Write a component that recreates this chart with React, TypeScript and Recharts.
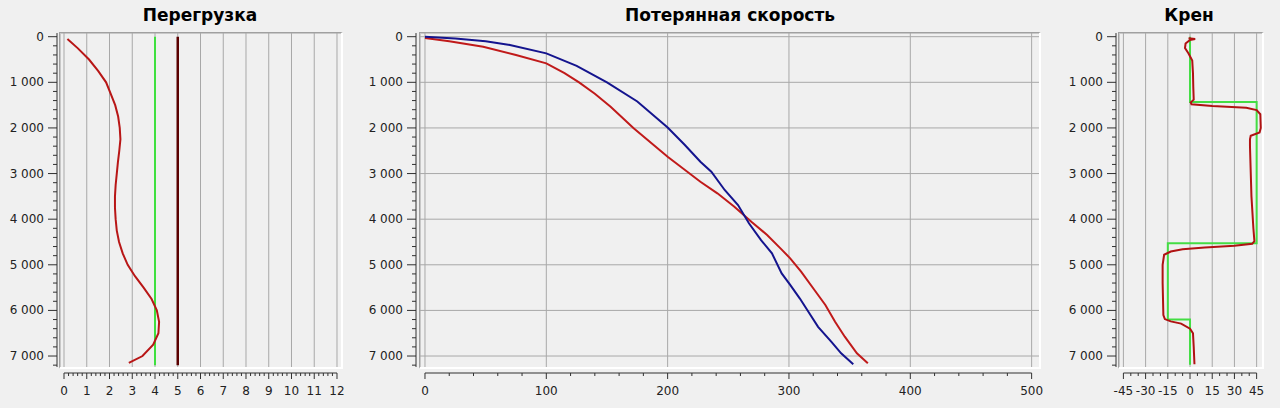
import { ComposedChart, Line, XAxis, YAxis, CartesianGrid, ReferenceLine } from 'recharts';

const BG = '#f0f0f0';
const GRID = '#a8a8a8';
const INK = '#303030';
const FONT = '"DejaVu Sans", sans-serif';

// depth axis, shared by all three panels
const depthMajor = [0, 1000, 2000, 3000, 4000, 5000, 6000, 7000];
const depthTicks: number[] = [];
for (let d = 0; d <= 7200; d += 200) depthTicks.push(d);
const depthDomain = [-103, 7372];

// Перегрузка
const loadDepth = [50, 250, 500, 750, 1000, 1250, 1500, 1750, 2000, 2250, 2500, 2750, 3000, 3250, 3500, 3750, 4000, 4250, 4500, 4750, 5000, 5250, 5500, 5750, 6000, 6250, 6500, 6750, 7000, 7150];
const loadActual = [0.15, 0.6, 1.1, 1.5, 1.85, 2.05, 2.25, 2.38, 2.45, 2.48, 2.43, 2.37, 2.32, 2.27, 2.24, 2.24, 2.27, 2.32, 2.42, 2.58, 2.8, 3.12, 3.5, 3.85, 4.08, 4.18, 4.15, 3.92, 3.45, 2.85];
const limitDepth = [0, 7200];
const loadLimitGreen = 4;
const loadLimitMaroon = 5;
const loadTicks = [0, 1, 2, 3, 4, 5, 6, 7, 8, 9, 10, 11, 12];

// Потерянная скорость
const lostBlueDepth = [0, 40, 100, 180, 365, 640, 1000, 1420, 1990, 2370, 2740, 2960, 3360, 3690, 4090, 4460, 4750, 5190, 5440, 5740, 6030, 6360, 6690, 6940, 7180];
const lostBlue = [0, 25, 50, 70, 100, 125, 150, 175, 200, 214, 227, 236, 247, 258, 267, 277, 286, 294, 301, 309, 316, 324, 335, 343, 353];
const lostRedDepth = [30, 100, 220, 400, 584, 800, 1000, 1250, 1534, 2008, 2630, 3180, 3433, 3726, 4055, 4347, 4640, 4858, 5150, 5553, 5882, 6247, 6576, 6940, 7160];
const lostRed = [0, 20, 48, 75, 100, 115, 127, 140, 153, 172, 200, 227, 241, 255, 269, 282, 293, 301, 310, 321, 330, 338, 346, 356, 365];
const lostTicks = [0, 100, 200, 300, 400, 500];

// Крен
const rollCmdDepth = [0, 1430, 1430, 4530, 4530, 6200, 6200, 7190];
const rollCmd = [0, 0, 45, 45, -15, -15, 0, 0];
const rollDepth = [35, 50, 70, 150, 250, 370, 520, 800, 1100, 1380, 1440, 1480, 1520, 1560, 1610, 1700, 2000, 2100, 2170, 2250, 2400, 3500, 4200, 4480, 4540, 4580, 4620, 4660, 4710, 4780, 5000, 5400, 6100, 6190, 6240, 6290, 6400, 6500, 6800, 7180];
const rollActual = [-1, 3.5, 0, -3, -3.4, -1, 1.5, 2, 2.2, 2.5, 0.5, 1, 15, 38, 45, 47.5, 47.8, 47, 41, 40.5, 40.5, 41.5, 42.8, 43.5, 42, 30, 10, -5, -13, -17.5, -18.5, -18.5, -18, -17, -13, -6, 0, 2, 2.5, 3];
const rollTicks = [-45, -30, -15, 0, 15, 30, 45];

const zip = (vals: number[], depths: number[]) => depths.map((d, i) => ({ v: vals[i], d }));
const constant = (v: number, depths: number[]) => depths.map((d) => ({ v, d }));

const withMinor = (majors: number[], parts: number) => {
  const out: number[] = [];
  for (let i = 0; i < majors.length - 1; i++) {
    const step = (majors[i + 1] - majors[i]) / parts;
    for (let k = 0; k < parts; k++) out.push(+(majors[i] + k * step).toFixed(4));
  }
  out.push(majors[majors.length - 1]);
  return out;
};

const fmtDepth = (v: number) =>
  v >= 1000 ? `${Math.floor(v / 1000)} ${String(v % 1000).padStart(3, '0')}` : String(v);

const makeXTick = (majors: number[]) => (props: any) => {
  const { x, y, payload } = props;
  const v = payload.value;
  const major = majors.some((m) => Math.abs(m - v) < 1e-6);
  return (
    <g>
      <line x1={x} x2={x} y1={y} y2={y + (major ? 6 : 3)} stroke={INK} />
      {major && (
        <text x={x} y={y + 22} textAnchor="middle" fontSize={12} fontFamily={FONT} fill="#222">
          {v}
        </text>
      )}
    </g>
  );
};

const YTick = (props: any) => {
  const { x, y, payload } = props;
  const v = payload.value;
  const major = v % 1000 === 0;
  return (
    <g>
      <line x1={x - (major ? 9 : 4)} x2={x} y1={y} y2={y} stroke={INK} />
      {major && (
        <text x={x - 13} y={y + 4} textAnchor="end" fontSize={12} fontFamily={FONT} fill="#222">
          {fmtDepth(v)}
        </text>
      )}
    </g>
  );
};

type Series = { data: { v: number; d: number }[]; color: string; width: number };

type PanelProps = {
  title: string;
  titleX: number;
  left: number;
  width: number;
  axisWidth: number;
  marginRight: number;
  frameLeft: number;
  frameRight: number;
  xDomain: number[];
  xMajor: number[];
  minorParts: number;
  hGrid: boolean;
  series: Series[];
};

function Panel(p: PanelProps) {
  const xTicks = withMinor(p.xMajor, p.minorParts);
  return (
    <>
      <div
        style={{
          position: 'absolute',
          left: p.titleX - 150,
          width: 300,
          top: 5,
          lineHeight: '20px',
          textAlign: 'center',
          fontFamily: FONT,
          fontWeight: 'bold',
          fontSize: 17,
          color: '#000',
        }}
      >
        {p.title}
      </div>
      <div
        style={{
          position: 'absolute',
          boxSizing: 'border-box',
          left: p.frameLeft,
          top: 32,
          width: p.frameRight - p.frameLeft,
          height: 337,
          borderTop: '1px solid #a0a0a0',
          borderLeft: '1px solid #a0a0a0',
          borderRight: '2px solid #ffffff',
          borderBottom: '2px solid #ffffff',
          boxShadow: 'inset 1px 1px 0 #c8c8c8',
        }}
      />
      <div style={{ position: 'absolute', left: p.left, top: 0 }}>
        <ComposedChart width={p.width} height={408} margin={{ top: 32, right: p.marginRight, bottom: 0, left: 0 }}>
          <CartesianGrid
            x={p.frameLeft - p.left + 1}
            y={33}
            width={p.frameRight - p.frameLeft - 3}
            height={334}
            stroke={GRID}
            vertical
            horizontal={p.hGrid}
            verticalValues={p.xMajor}
            horizontalValues={depthMajor}
          />
          <XAxis
            type="number"
            dataKey="v"
            domain={p.xDomain}
            allowDataOverflow
            ticks={xTicks}
            interval={0}
            height={35}
            axisLine={false}
            tickLine={false}
            tickSize={0}
            tickMargin={0}
            tick={makeXTick(p.xMajor)}
          />
          <YAxis
            type="number"
            reversed
            domain={depthDomain}
            allowDataOverflow
            ticks={depthTicks}
            interval={0}
            width={p.axisWidth}
            axisLine={false}
            tickLine={false}
            tickSize={0}
            tickMargin={0}
            tick={YTick}
          />
          <ReferenceLine
            ifOverflow="visible"
            stroke={INK}
            segment={[
              { x: p.xMajor[0], y: depthDomain[1] },
              { x: p.xMajor[p.xMajor.length - 1], y: depthDomain[1] },
            ]}
          />
          <ReferenceLine
            ifOverflow="visible"
            stroke={INK}
            segment={[
              { x: p.xDomain[0], y: -80 },
              { x: p.xDomain[0], y: 7240 },
            ]}
          />
          {p.series.map((s, i) => (
            <Line
              key={i}
              data={s.data}
              dataKey="d"
              type="linear"
              stroke={s.color}
              strokeWidth={s.width}
              dot={false}
              activeDot={false}
              isAnimationActive={false}
            />
          ))}
        </ComposedChart>
      </div>
    </>
  );
}

export default function App() {
  return (
    <div style={{ position: 'absolute', left: 0, top: 0, width: 1280, height: 408, background: BG, overflow: 'hidden' }}>
      <Panel
        title="Перегрузка"
        titleX={200}
        left={0}
        width={350}
        axisWidth={57}
        marginRight={8}
        frameLeft={59}
        frameRight={343}
        xDomain={[-0.308, 12.22]}
        xMajor={loadTicks}
        minorParts={5}
        hGrid={false}
        series={[
          { data: constant(loadLimitGreen, limitDepth), color: '#3fe03f', width: 2 },
          { data: constant(loadLimitMaroon, limitDepth), color: '#5a0000', width: 2.5 },
          { data: zip(loadActual, loadDepth), color: '#b81616', width: 2 },
        ]}
      />
      <Panel
        title="Потерянная скорость"
        titleX={730}
        left={350}
        width={705}
        axisWidth={66}
        marginRight={15}
        frameLeft={419}
        frameRight={1041}
        xDomain={[-7.4, 506.9]}
        xMajor={lostTicks}
        minorParts={5}
        hGrid
        series={[
          { data: zip(lostRed, lostRedDepth), color: '#c01a1a', width: 2 },
          { data: zip(lostBlue, lostBlueDepth), color: '#14148e', width: 2 },
        ]}
      />
      <Panel
        title="Крен"
        titleX={1189}
        left={1040}
        width={240}
        axisWidth={76}
        marginRight={17}
        frameLeft={1118}
        frameRight={1264}
        xDomain={[-50, 49.3]}
        xMajor={rollTicks}
        minorParts={3}
        hGrid={false}
        series={[
          { data: zip(rollCmd, rollCmdDepth), color: '#44dd44', width: 2 },
          { data: zip(rollActual, rollDepth), color: '#b01212', width: 2 },
        ]}
      />
    </div>
  );
}
